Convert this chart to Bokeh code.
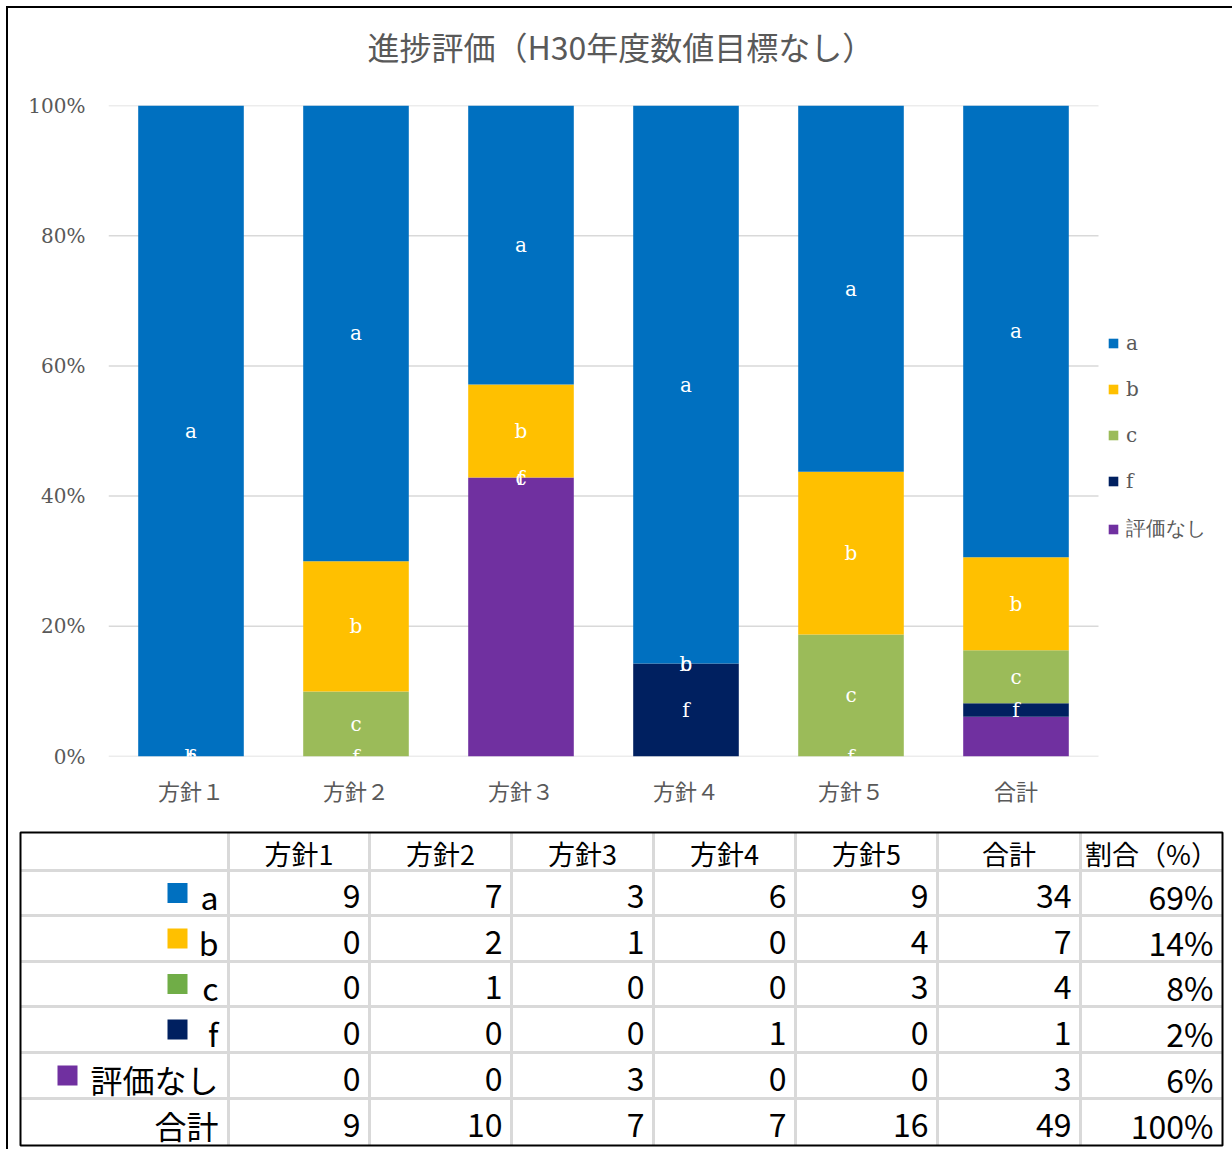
from bokeh.plotting import figure
from bokeh.models import (ColumnDataSource, Range1d, FixedTicker,
                          NumeralTickFormatter, Legend, LegendItem)
from bokeh.layouts import column, row
from bokeh.core.properties import value
from bokeh.embed import file_html
from bokeh.resources import INLINE

# ---------------- data ----------------
categories = ["方針１", "方針２", "方針３", "方針４", "方針５", "合計"]
table_headers = ["方針1", "方針2", "方針3", "方針4", "方針5", "合計", "割合（%）"]
series_names = ["a", "b", "c", "f", "評価なし"]
a_counts = [9, 7, 3, 6, 9, 34]
b_counts = [0, 2, 1, 0, 4, 7]
c_counts = [0, 1, 0, 0, 3, 4]
f_counts = [0, 0, 0, 1, 0, 1]
none_counts = [0, 0, 3, 0, 0, 3]
total_label = "合計"
y_ticks = [0, 0.2, 0.4, 0.6, 0.8, 1.0]

chart_colors = ["#0070C0", "#FFC000", "#9BBB59", "#002060", "#7030A0"]
table_colors = ["#0070C0", "#FFC000", "#70AD47", "#002060", "#7030A0"]
GRAY = "#595959"
GRID = "#D9D9D9"

counts = [a_counts, b_counts, c_counts, f_counts, none_counts]
n = len(categories)
col_totals = [sum(s[i] for s in counts) for i in range(n)]
fracs = [[v / t if t else 0 for v, t in zip(s, col_totals)] for s in counts]

# ---------------- chart ----------------
BARS_W, FRAME_W = 990, 1124          # plot area for bars, frame incl. legend space
xs = [i + 0.5 for i in range(n)]     # category slots on the x scale
src = {"x": xs, "cat": categories}
keys = ["k_a", "k_b", "k_c", "k_f", "k_none"]
for k, fr in zip(keys, fracs):
    src[k] = fr
source = ColumnDataSource(src)

p = figure(x_range=Range1d(0, n * FRAME_W / BARS_W), y_range=Range1d(0, 1),
           frame_width=FRAME_W, frame_height=651, output_backend="svg",
           toolbar_location=None, min_border_left=100, min_border_right=0,
           min_border_top=97, min_border_bottom=64, background_fill_color="white",
           border_fill_color="white")

# horizontal gridlines limited to the bar area
p.segment(x0=[0] * len(y_ticks), x1=[n] * len(y_ticks), y0=y_ticks, y1=y_ticks,
          line_color=GRID, line_width=1.5)

# bottom -> top stacking order: 評価なし, f, c, b, a
order = [4, 3, 2, 1, 0]
rends = p.vbar_stack([keys[i] for i in order], x="x", width=0.64,
                     color=[chart_colors[i] for i in order], line_width=0,
                     source=source)
rend_by_series = {order[j]: rends[j] for j in range(len(order))}

# data labels (series name at middle of each segment; 評価なし not labelled)
lx, ly, lt = [], [], []
for ci in range(n):
    bottom = 0.0
    for si in order:
        h = fracs[si][ci]
        if si != 4:
            lx.append(xs[ci])
            ly.append(bottom + h / 2)
            lt.append(series_names[si])
        bottom += h
lbl = ColumnDataSource(dict(x=lx, y=ly, t=lt))
p.text(x="x", y="y", text="t", source=lbl, text_color="white",
       text_font=value("DejaVu Serif"), text_font_size="20px",
       text_align="center", text_baseline="middle")

p.title.text = "進捗評価（H30年度数値目標なし）"
p.title.align = "left"
p.title.offset = 259
p.title.text_font = "Noto Sans CJK JP"
p.title.text_font_size = "32px"
p.title.text_font_style = "normal"
p.title.text_color = GRAY
p.title.standoff = 4
try:
    p.title.padding = dict(left=0, right=0, top=0, bottom=35)
except Exception:
    p.title.standoff = 48

p.yaxis.ticker = FixedTicker(ticks=y_ticks)
p.yaxis.formatter = NumeralTickFormatter(format="0%")
p.yaxis.axis_line_color = None
p.yaxis.major_tick_line_color = None
p.yaxis.minor_tick_line_color = None
p.yaxis.major_label_text_font = "DejaVu Serif"
p.yaxis.major_label_text_font_size = "20px"
p.yaxis.major_label_text_color = GRAY
p.yaxis.major_label_standoff = 17

p.xaxis.ticker = FixedTicker(ticks=xs)
p.xaxis.major_label_overrides = {x: c for x, c in zip(xs, categories)}
p.xaxis.axis_line_color = None
p.xaxis.major_tick_line_color = None
p.xaxis.minor_tick_line_color = None
p.xaxis.major_label_text_font = "Noto Sans CJK JP"
p.xaxis.major_label_text_font_size = "22px"
p.xaxis.major_label_text_color = GRAY
p.xaxis.major_label_standoff = 11

p.xgrid.visible = False
p.ygrid.visible = False
p.outline_line_color = None

legend = Legend(items=[LegendItem(label=series_names[i], renderers=[rend_by_series[i]])
                       for i in range(5)],
                location=(BARS_W + 9, 214), orientation="vertical",
                glyph_width=12, glyph_height=12, label_standoff=7,
                spacing=22, label_height=22, padding=0, margin=0,
                border_line_color=None, background_fill_alpha=0,
                label_text_font="DejaVu Serif", label_text_font_size="20px",
                label_text_color=GRAY)
p.add_layout(legend)

# ---------------- table ----------------
t = figure(width=1224, height=329, x_range=Range1d(0, 1224), y_range=Range1d(329, 0),
           output_backend="svg", toolbar_location=None, x_axis_location=None,
           y_axis_location=None, min_border=0, background_fill_color="white",
           border_fill_color="white")
t.grid.visible = False
t.outline_line_color = None

col_edges = [12, 220, 361, 503, 645, 787, 929, 1072, 1214]
row_edges = [12, 50, 95, 141, 186, 232, 278, 325]

vx = col_edges[1:-1]
t.segment(x0=vx, y0=[row_edges[0]] * len(vx), x1=vx, y1=[row_edges[-1]] * len(vx),
          line_color=GRID, line_width=3)
hy = row_edges[1:-1]
t.segment(x0=[col_edges[0]] * len(hy), y0=hy, x1=[col_edges[-1]] * len(hy), y1=hy,
          line_color=GRID, line_width=3)
t.quad(left=[col_edges[0]], right=[col_edges[-1]], top=[row_edges[0]],
       bottom=[row_edges[-1]], fill_alpha=0, line_color="black", line_width=2)

# header
hx = [(col_edges[i + 1] + col_edges[i + 2]) / 2 for i in range(len(table_headers))]
t.text(x=hx, y=[(row_edges[0] + row_edges[1]) / 2 + 2] * len(hx), text=table_headers,
       text_font=value("Noto Sans CJK JP"), text_font_size="27px", text_color="black",
       text_align="center", text_baseline="middle")

grand = col_totals[-1]
row_labels = series_names + [total_label]
rows = []
for s in counts:
    rows.append([str(v) for v in s] + [f"{round(s[-1] / grand * 100)}%"])
rows.append([str(v) for v in col_totals] + [f"{round(grand / grand * 100)}%"])

bx, by, bt = [], [], []
for r, vals in enumerate(rows):
    yc = (row_edges[r + 1] + row_edges[r + 2]) / 2 + 3
    for c, v in enumerate(vals):
        bx.append(col_edges[c + 2] - 9)
        by.append(yc)
        bt.append(v)
t.text(x=bx, y=by, text=bt, text_font=value("Noto Sans CJK JP"), text_font_size="32px",
       text_color="black", text_align="right", text_baseline="middle")

rl_y = [(row_edges[r + 1] + row_edges[r + 2]) / 2 + 3 for r in range(len(row_labels))]
t.text(x=[col_edges[1] - 10] * len(row_labels), y=rl_y, text=row_labels,
       text_font=value("Noto Sans CJK JP"), text_font_size="32px", text_color="black",
       text_align="right", text_baseline="middle")


def est_width(s, size=32):
    return sum(0.55 * size if ord(ch) < 256 else 1.0 * size for ch in s)


sw_x = [col_edges[1] - 10 - max(est_width(nm), 18) - 13 - 10 for nm in series_names]
sw_y = [(row_edges[r + 1] + row_edges[r + 2]) / 2 for r in range(len(series_names))]
t.rect(x=sw_x, y=sw_y, width=20, height=20, fill_color=table_colors, line_color=None)

layout = column(p, row(t), styles={"border-left": "2px solid #000", "border-top": "2px solid #000",
                                   "margin-left": "6px", "margin-top": "6px"})

open("out.html", "w").write(file_html(layout, INLINE))
